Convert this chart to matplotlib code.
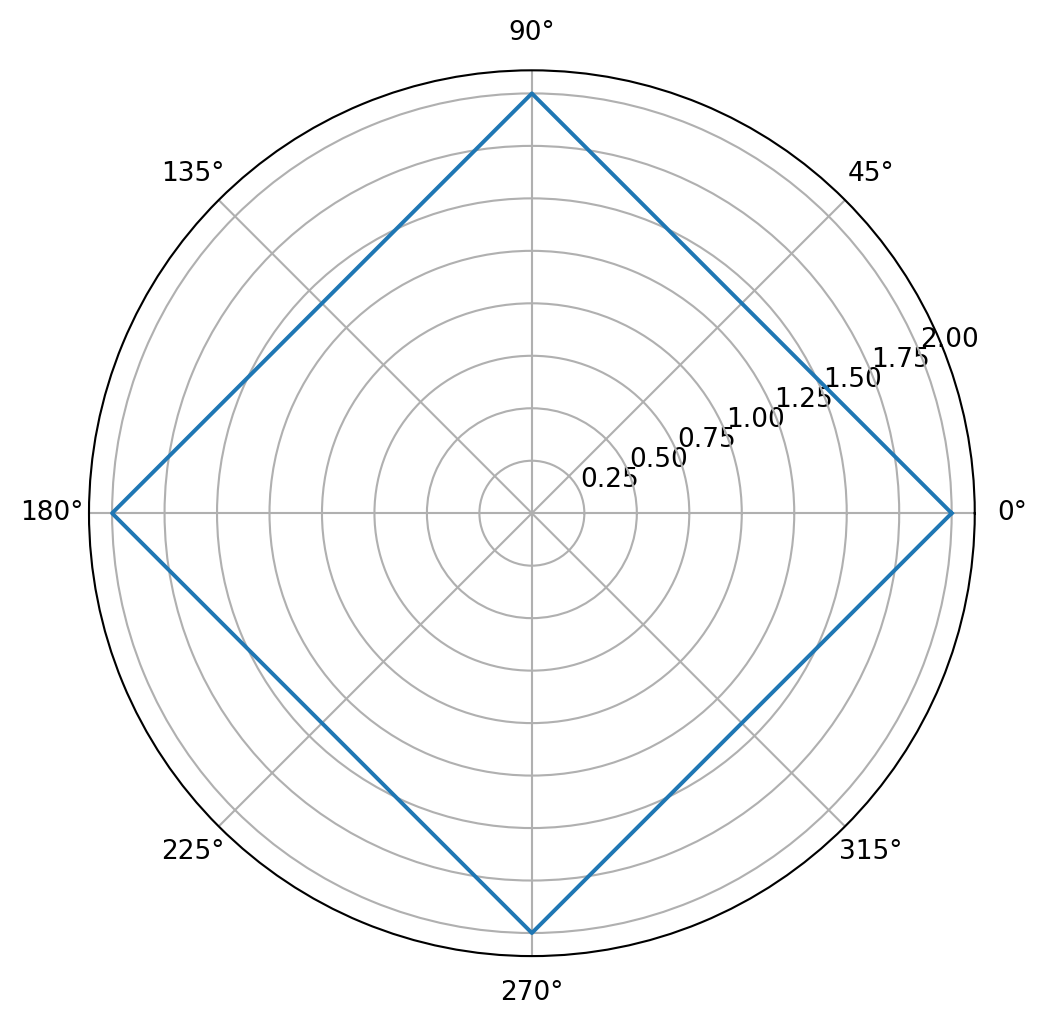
import numpy as np
import matplotlib
matplotlib.use('Agg')
from matplotlib import pyplot as plt

# vertices of the diamond (degrees, radius)
theta_deg = [0, 90, 180, 270, 360]
radius = [2, 2, 2, 2, 2]

dpi = 190
fig = plt.figure(figsize=(1047 / dpi, 1026 / dpi), dpi=dpi)
ax = fig.add_axes([0.085, 0.068, 0.846, 0.8636], projection='polar')
ax.plot(np.deg2rad(theta_deg), radius)
ax.grid(True)

fig.savefig('out.png', dpi=dpi)
